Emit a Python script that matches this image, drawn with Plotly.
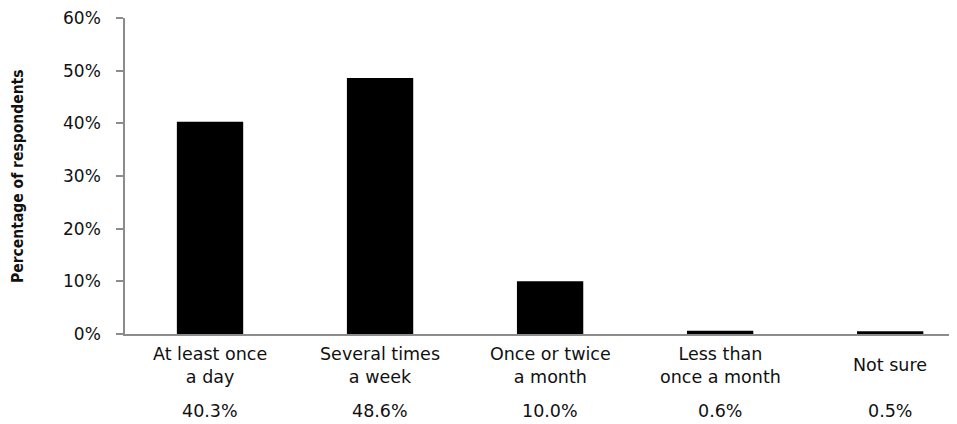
import plotly.graph_objects as go

categories = ["At least once<br>a day", "Several times<br>a week", "Once or twice<br>a month",
              "Less than<br>once a month", "Not sure"]
values = [0.403, 0.486, 0.100, 0.006, 0.005]
value_labels = ["40.3%", "48.6%", "10.0%", "0.6%", "0.5%"]
ytitle = "Percentage of respondents"

FONT = "DejaVu Sans, Verdana, sans-serif"
x = list(range(len(categories)))

fig = go.Figure()
fig.add_trace(go.Bar(x=x, y=values, marker=dict(color="black", line=dict(width=0)),
                     hoverinfo="skip"))

annotations = []
for i, (c, v) in enumerate(zip(categories, value_labels)):
    annotations.append(dict(x=i, y=0, xref="x", yref="paper", text=c, showarrow=False,
                            yanchor="middle", xanchor="center", yshift=-31,
                            font=dict(family=FONT, size=17.5, color="#111")))
    annotations.append(dict(x=i, y=0, xref="x", yref="paper", text=v, showarrow=False,
                            yanchor="middle", xanchor="center", yshift=-77,
                            font=dict(family=FONT, size=17.5, color="#111")))
annotations.append(dict(x=0, y=0.5, xref="paper", yref="paper", text="<b>" + ytitle + "</b>",
                        showarrow=False, textangle=-90, xanchor="center", yanchor="middle",
                        xshift=-107,
                        font=dict(family="Liberation Sans Narrow, DejaVu Sans Condensed, Arial Narrow, sans-serif",
                                  size=15.5, color="#111")))

# page body has an 8px default margin, so margins are reduced by 8px
fig.update_layout(
    width=957, height=424,
    margin=dict(l=117, r=0, t=8, b=98),
    paper_bgcolor="white", plot_bgcolor="white",
    bargap=0.61, showlegend=False,
    annotations=annotations,
    xaxis=dict(range=[-0.5, 4.44], showline=True, linecolor="#8c8c8c", linewidth=1.5,
               showticklabels=False, ticks="", showgrid=False, zeroline=False, fixedrange=True),
    yaxis=dict(range=[0, 0.6], dtick=0.1, tick0=0, tickformat=".0%", showline=True,
               linecolor="#8c8c8c", linewidth=1.5, ticks="outside", ticklen=7,
               tickcolor="#8c8c8c", tickwidth=1.5, showgrid=False, zeroline=False,
               tickfont=dict(family=FONT, size=17, color="#111"), ticklabelstandoff=12,
               ticklabeloverflow="allow", fixedrange=True),
)

fig.write_html("out.html")
